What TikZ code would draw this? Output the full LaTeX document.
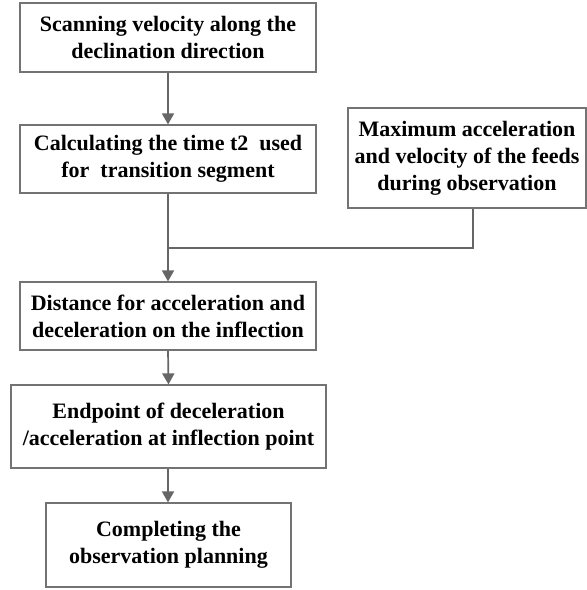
\documentclass[tikz,border=0pt]{standalone}
\usepackage{fontspec}
\setmainfont{Liberation Serif}
\usetikzlibrary{arrows.meta}
\begin{document}
\begin{tikzpicture}[x=1pt,y=-1pt,
  box/.style={draw=black!55,line width=1.2pt,fill=white,align=center,
    font=\fontsize{22}{26.8}\selectfont\bfseries,inner sep=0pt},
  conn/.style={draw=black!60,line width=1.7pt},
  arr/.style={conn,-{Triangle[length=11pt,width=12pt]}}]
\useasboundingbox (0,0) rectangle (587,590);
\node[box,minimum width=296pt,minimum height=69pt] (b1) at (168,37.5) {Scanning velocity along the\\declination direction};
\node[box,minimum width=296pt,minimum height=68pt] (b2) at (168,159) {Calculating the time t2\ \ used\\for\ \ transition segment};
\node[box,minimum width=238pt,minimum height=100pt] (b3) at (467,158) {Maximum acceleration\\and velocity of the feeds\\during observation};
\node[box,minimum width=296pt,minimum height=68pt] (b4) at (168,316) {Distance for acceleration and\\deceleration on the inflection};
\node[box,minimum width=315pt,minimum height=83pt] (b5) at (168.5,426.5) {Endpoint of deceleration\\/acceleration at inflection point};
\node[box,minimum width=245pt,minimum height=84pt] (b6) at (168.5,545) {Completing the\\observation planning};
\coordinate (j) at (168,248);
\coordinate (r) at (473,248);
\draw[arr] (b1.south) -- (b2.north);
\draw[arr] (b2.south) -- (b4.north);
\draw[conn] (b3.south -| r) -- (r) -- (j);
\draw[arr] (b4.south) -- (b5.north);
\draw[arr] (b5.south -| b4.south) -- (b6.north -| b4.south);
\end{tikzpicture}
\end{document}
